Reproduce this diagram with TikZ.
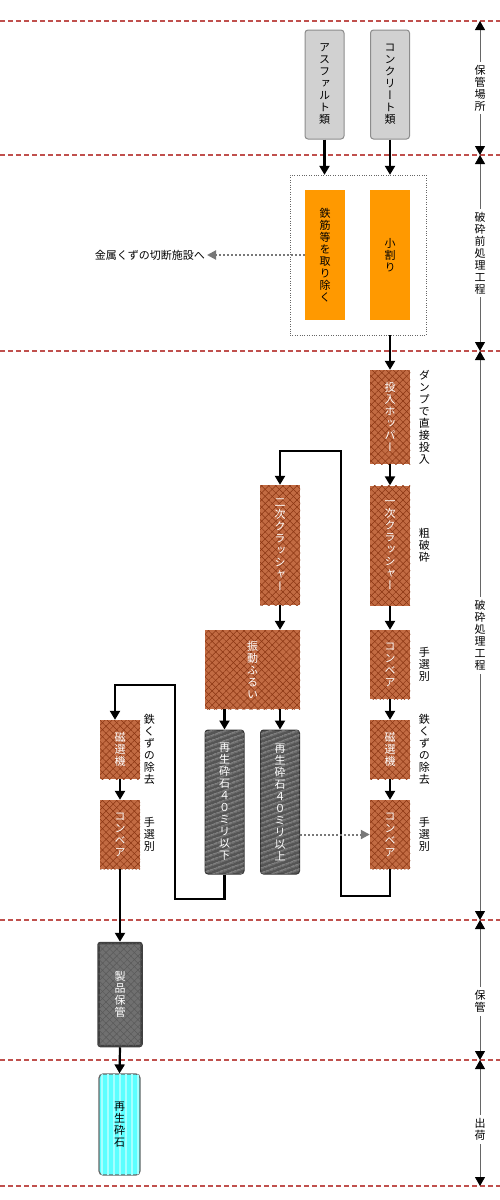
\documentclass[tikz,border=0pt]{standalone}
\usepackage{fontspec}
\setmainfont{Noto Sans CJK JP}
\newfontfamily\tatefont[RawFeature=+vert]{Noto Sans CJK JP}
\usepackage{graphicx}
\usepackage{xcolor}
\usepackage{tikz}
\usetikzlibrary{arrows.meta,patterns.meta,positioning}

\definecolor{cutred}{HTML}{C0504D}
\definecolor{orangefill}{HTML}{FF9900}
\definecolor{brickfill}{HTML}{C26B43}
\definecolor{brickline}{HTML}{8A3512}
\definecolor{stonegray}{HTML}{555555}
\definecolor{keepgray}{HTML}{707070}
\definecolor{shipcyan}{HTML}{5CFFFF}
\definecolor{shipstripe}{HTML}{A6FFFF}
\definecolor{dotgray}{HTML}{787878}

% vertical text, one character under the other
\makeatletter
\newcommand\tate[1]{{\tatefont\vbox{\baselineskip=12pt\lineskiplimit=-20pt
  \@tfor\tatech:=#1\do{\hbox to 12pt{\hss\tatech\hss}}}}}
\makeatother

\begin{document}
\begin{tikzpicture}[x=1pt,y=-1pt,font=\fontsize{11}{12}\selectfont,
  stage/.style={draw=cutred,line width=1.6pt,dash pattern=on 5pt off 3pt},
  span/.style={draw=black!60,line width=0.8pt,
    {Triangle[length=9pt,width=10pt,black]}-{Triangle[length=9pt,width=10pt,black]}},
  flow/.style={line width=2.2pt,-{Triangle[length=9pt,width=10pt]}},
  dotflow/.style={draw=dotgray,line width=2pt,dash pattern=on 2pt off 2pt,
    -{Triangle[length=9pt,width=9pt]}},
  pile/.style={draw=black!45,line width=1pt,rounded corners=3pt,fill=black!18,
    minimum width=39,minimum height=109,inner sep=0pt},
  hand/.style={fill=orangefill,minimum width=40,minimum height=130,inner sep=0pt},
  plant/.style={fill=brickfill,text=white,minimum width=40,inner sep=0pt,
    postaction={pattern={Lines[angle=45,distance=5pt,line width=0.5pt]},pattern color=brickline},
    postaction={pattern={Lines[angle=-45,distance=5pt,line width=0.5pt]},pattern color=brickline}},
  stone/.style={draw=black!80,line width=1pt,rounded corners=3pt,fill=stonegray,text=white,
    minimum width=39,minimum height=144,inner sep=0pt,
    postaction={pattern={Lines[angle=20,distance=4pt,line width=1pt]},pattern color=black!40}},
  keep/.style={draw=black!75,line width=2.5pt,rounded corners=2pt,fill=keepgray,text=white,
    minimum width=43,minimum height=103,inner sep=0pt,
    postaction={pattern={Lines[angle=45,distance=5pt,line width=0.5pt]},pattern color=black!65},
    postaction={pattern={Lines[angle=-45,distance=5pt,line width=0.5pt]},pattern color=black!65}},
  ship/.style={draw=black!60,line width=1.2pt,rounded corners=4pt,fill=shipcyan,
    minimum width=41,minimum height=101,inner sep=0pt,
    postaction={pattern={Lines[angle=90,distance=6pt,line width=2.5pt]},pattern color=shipstripe}},
  note/.style={inner sep=0pt}]
  \useasboundingbox (0,0) rectangle (500,1200);

  % stage borders
  \foreach \y [count=\i from 0] in {21,155,351,920,1060,1186} {
    \draw[stage] (0,\y) -- (500,\y);
    \coordinate (s\i) at (480,\y);
  }
  \draw[span] (s0) -- (s1) node[midway,fill=white] (lab0) {\tate{保管場所}};
  \draw[span] (s1) -- (s2) node[midway,fill=white] (lab1) {\tate{破砕前処理工程}};
  \draw[span] (s2) -- (s3) node[midway,fill=white] (lab2) {\tate{破砕処理工程}};
  \draw[span] (s3) -- (s4) node[pos=0.58,fill=white] (lab3) {\tate{保管}};
  \draw[span] (s4) -- (s5) node[pos=0.55,fill=white] (lab4) {\tate{出荷}};

  % storage
  \node[pile] (asphalt) at (324.5,84.5) {\tate{アスファルト類}};
  \node[pile] (concrete) at (390,84.5) {\tate{コンクリート類}};

  % pre-treatment
  \node[draw=black!60,dotted,minimum width=136,minimum height=160] (prebox) at (358,255) {};
  \node[hand] (rebar) at (325,255) {\tate{鉄筋等を取り除く}};
  \node[hand] (split) at (390,255) {\tate{小割り}};
  \node[anchor=east,inner sep=2pt] (scrap) at (207,255) {金属くずの切断施設へ};
  \draw[flow] (asphalt.south) -- (asphalt.south |- prebox.north);
  \draw[flow] (concrete.south) -- (concrete.south |- prebox.north);
  \draw[dotflow] (rebar.west) -- (scrap.east);

  % crushing line
  \node[plant,minimum height=94] (hopper) at (390,417) {\tate{投入ホッパー}};
  \node[plant,minimum height=120] (crush1) at (390,545.5) {\tate{一次クラッシャー}};
  \node[plant,minimum height=69] (conv1) at (390,664.5) {\tate{コンベア}};
  \node[plant,minimum height=59] (mag1) at (390,749.5) {\tate{磁選機}};
  \node[plant,minimum height=69] (conv2) at (390,834.5) {\tate{コンベア}};
  \node[plant,minimum height=120] (crush2) at (280,545) {\tate{二次クラッシャー}};
  \node[plant,minimum width=95,minimum height=79] (screen) at (252.5,669.5) {\tate{振動ふるい}};
  \node[stone] (under40) at (224.5,802) {\tate{再生砕石４０ミリ以下}};
  \node[stone] (over40) at (280,802) {\tate{再生砕石４０ミリ以上}};
  \node[plant,minimum height=59] (magL) at (120,749.5) {\tate{磁選機}};
  \node[plant,minimum height=69] (convL) at (120,834.5) {\tate{コンベア}};

  \node[note,right=8pt of hopper] (dumpnote) {\tate{ダンプで直接投入}};
  \node[note,right=8pt of crush1] (roughnote) {\tate{粗破砕}};
  \node[note,right=8pt of conv1] (handnote1) {\tate{手選別}};
  \node[note,right=8pt of mag1] (ironnote1) {\tate{鉄くずの除去}};
  \node[note,right=8pt of conv2] (handnote2) {\tate{手選別}};
  \node[note,right=3pt of magL] (ironnote2) {\tate{鉄くずの除去}};
  \node[note,right=3pt of convL] (handnote3) {\tate{手選別}};

  \draw[flow] (hopper.north |- prebox.south) -- (hopper.north);
  \draw[flow] (hopper.south) -- (crush1.north);
  \draw[flow] (crush1.south) -- (conv1.north);
  \draw[flow] (conv1.south) -- (mag1.north);
  \draw[flow] (mag1.south) -- (conv2.north);
  \draw[flow] (conv2.south) |- (341,896) |- (280,451) -- (crush2.north);
  \draw[flow] (crush2.south) -- (crush2.south |- screen.north);
  \draw[flow] (under40.north |- screen.south) -- (under40.north);
  \draw[flow] (over40.north |- screen.south) -- (over40.north);
  \draw[dotflow] (over40.east |- conv2.west) -- (conv2.west);
  \draw[flow] (under40.south) |- (175,899) |- (115,685) -- ([xshift=-5pt]magL.north);
  \draw[flow] (magL.south) -- (convL.north);

  % storage and shipping
  \node[keep] (product) at (120,994.5) {\tate{製品保管}};
  \node[ship] (ship) at (119.5,1124.5) {\tate{再生砕石}};
  \draw[flow] (convL.south) -- (product.north);
  \draw[flow] (product.south) -- (ship.north);
\end{tikzpicture}
\end{document}
